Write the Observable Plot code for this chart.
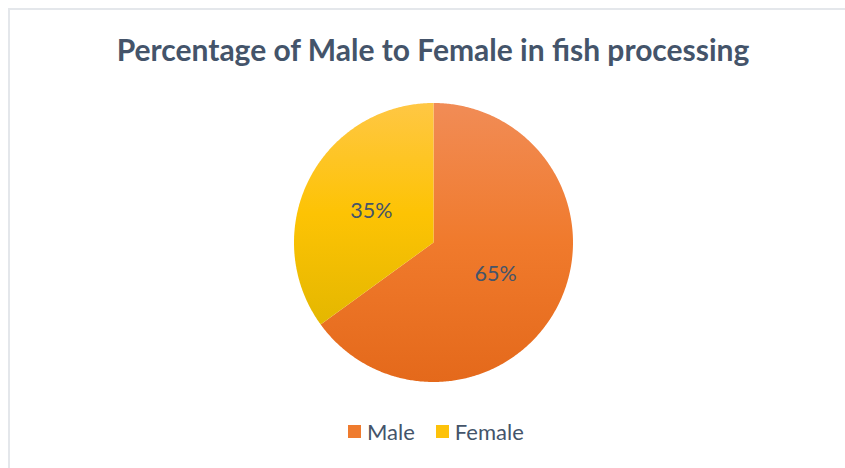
<!DOCTYPE html>
<html>
<head>
<meta charset="utf-8">
<script src="https://cdn.jsdelivr.net/npm/d3@7"></script>
<script src="https://cdn.jsdelivr.net/npm/@observablehq/plot@0.6"></script>
<style>
  html, body { margin: 0; padding: 0; background: #fff; }
  body { width: 845px; height: 468px; overflow: hidden; position: relative; font-family: Lato, "Open Sans", sans-serif; }
  #frame { position: absolute; left: 8px; top: 8px; width: 900px; height: 520px; border-top: 2px solid #e4e7eb; border-left: 2px solid #e4e7eb; }
  #title { position: absolute; left: 0; top: 31px; width: 866px; text-align: center; font-weight: bold; font-size: 30px; line-height: 36px; color: #44546a; white-space: nowrap; }
  #chart { position: absolute; left: 0; top: 0; }
  #legend { position: absolute; left: 348px; top: 418px; display: flex; align-items: center; font-size: 22px; color: #44546a; white-space: nowrap; }
  .sw { display: inline-block; width: 13px; height: 13px; margin-right: 6px; }
  .item { display: flex; align-items: center; margin-right: 21px; }
</style>
</head>
<body>
<div id="frame"></div>
<div id="chart"></div>
<div id="title">Percentage of Male to Female in fish processing</div>
<div id="legend"></div>
<script>
const categories = ["Male", "Female"];
const values = [65, 35];
const labels = ["65%", "35%"];
const gradTop = ["#f18c56", "#ffc744"];
const gradMid = ["#f07a2c", "#fdc304"];
const gradBottom = ["#e4691b", "#e4b700"];
const swatchColors = ["#ef7b2e", "#fdc20a"];

const pie = d3.pie().sort(null).value(d => d.value)(categories.map((c, i) => ({category: c, value: values[i], label: labels[i], grad: "url(#g" + i + ")"})));

// polygon points for each slice (unit radius, angle clockwise from 12 o'clock)
const outline = [];
pie.forEach(s => {
  outline.push({category: s.data.category, grad: s.data.grad, x: 0, y: 0});
  const n = Math.max(2, Math.ceil((s.endAngle - s.startAngle) / 0.01));
  for (let k = 0; k <= n; k++) {
    const a = s.startAngle + (s.endAngle - s.startAngle) * k / n;
    outline.push({category: s.data.category, grad: s.data.grad, x: Math.sin(a), y: Math.cos(a)});
  }
  outline.push({category: s.data.category, grad: s.data.grad, x: 0, y: 0});
});
const labelPts = pie.map(s => {
  const a = (s.startAngle + s.endAngle) / 2;
  return {label: s.data.label, x: 0.5 * Math.sin(a), y: 0.5 * Math.cos(a)};
});

const cx = 433, cy = 242, r = 139.5;
const svg = Plot.plot({
  width: 845,
  height: 468,
  margin: 0,
  x: {domain: [-1, 1], range: [cx - r, cx + r], axis: null},
  y: {domain: [-1, 1], range: [cy + r, cy - r], axis: null},
  color: {type: "identity"},
  style: {background: "transparent", fontFamily: "Lato, 'Open Sans', sans-serif"},
  marks: [
    Plot.line(outline, {x: "x", y: "y", z: "category", fill: "grad", stroke: "none"}),
    Plot.text(labelPts, {x: "x", y: "y", text: "label", fill: "#44546a", fontSize: 21.5})
  ]
});

const defs = d3.select(svg).insert("defs", ":first-child");
categories.forEach((c, i) => {
  const g = defs.append("linearGradient").attr("id", "g" + i).attr("x1", 0).attr("y1", 0).attr("x2", 0).attr("y2", 1);
  g.append("stop").attr("offset", "0%").attr("stop-color", gradTop[i]);
  g.append("stop").attr("offset", "50%").attr("stop-color", gradMid[i]);
  g.append("stop").attr("offset", "100%").attr("stop-color", gradBottom[i]);
});
document.getElementById("chart").appendChild(svg);

const legend = d3.select("#legend");
categories.forEach((c, i) => {
  const it = legend.append("div").attr("class", "item");
  it.append("span").attr("class", "sw").style("background", swatchColors[i]);
  it.append("span").text(c);
});
</script>
</body>
</html>
